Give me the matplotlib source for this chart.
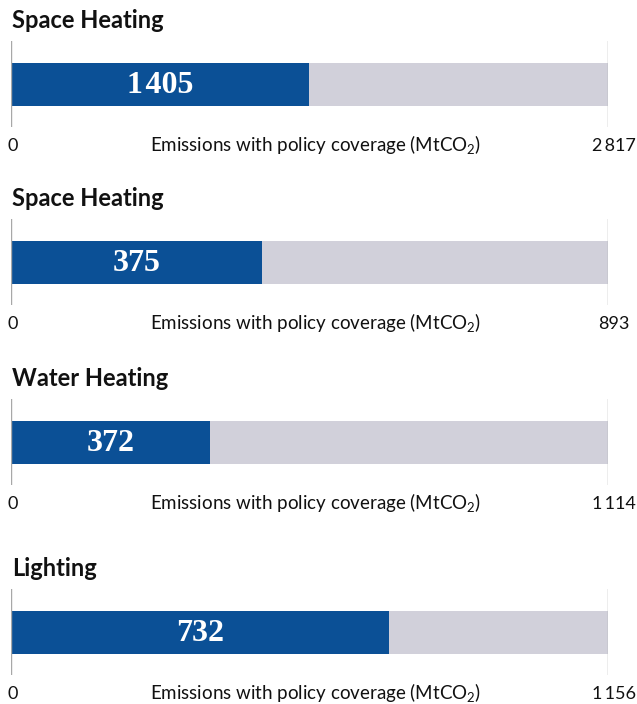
import matplotlib
matplotlib.use('Agg')
import matplotlib.pyplot as plt

titles = ['Space Heating', 'Space Heating', 'Water Heating', 'Lighting']
covered = [1405, 375, 372, 732]
totals = [2817, 893, 1114, 1156]
value_labels = ['1\u200a405', '375', '372', '732']
total_labels = ['2\u2009817', '893', '1\u2009114', '1\u2009156']
axis_label = 'Emissions with policy coverage (MtCO$_2$)'

BLUE = '#0b5096'
GREY = '#d1d0da'
LINE = '#a8a8a8'

plt.rcParams['font.family'] = ['Lato', 'DejaVu Sans']
plt.rcParams['mathtext.fontset'] = 'custom'
plt.rcParams['mathtext.rm'] = 'Lato'
plt.rcParams['mathtext.it'] = 'Lato'

W, H = 637, 704
fig = plt.figure(figsize=(W / 100, H / 100), dpi=100)

left_px, right_px = 11, 608
tops_px = [41, 219, 399, 589]
ax_h = 86

for i in range(4):
    top = tops_px[i]
    ax = fig.add_axes([left_px / W, 1 - (top + ax_h) / H,
                       (right_px - left_px) / W, ax_h / H])
    ax.set_xlim(0, totals[i])
    ax.set_ylim(-1, 1)
    ax.axis('off')

    ax.barh(0, totals[i], height=1, color=GREY, zorder=1)
    ax.barh(0, covered[i], height=1, color=BLUE, zorder=2)
    ax.axvline(0, color=LINE, lw=1, zorder=3)
    ax.axvline(totals[i], color=LINE, lw=1, zorder=3)

    ax.text(covered[i] / 2, -0.04, value_labels[i],
            ha='center', va='center',
            color='white', fontsize=23, fontweight='bold',
            family=['Liberation Serif', 'DejaVu Serif'], zorder=4)

    ax.annotate(titles[i], xy=(0, 1), xycoords='axes fraction',
                xytext=(1, 20), textcoords='offset pixels',
                ha='left', va='center', fontsize=17, fontweight='bold',
                color='#111111', annotation_clip=False)

    ax.annotate('0', xy=(0, 0), xycoords=('data', 'axes fraction'),
                xytext=(2, -19), textcoords='offset pixels',
                ha='center', va='center', fontsize=13, color='#111111',
                annotation_clip=False)
    ax.annotate(total_labels[i], xy=(totals[i], 0),
                xycoords=('data', 'axes fraction'),
                xytext=(6, -19), textcoords='offset pixels',
                ha='center', va='center', fontsize=13, color='#111111',
                annotation_clip=False)
    ax.annotate(axis_label, xy=(0.5, 0), xycoords='axes fraction',
                xytext=(6, -17), textcoords='offset pixels',
                ha='center', va='center', fontsize=13.5, color='#111111',
                annotation_clip=False)

fig.savefig('out.png', dpi=100)
